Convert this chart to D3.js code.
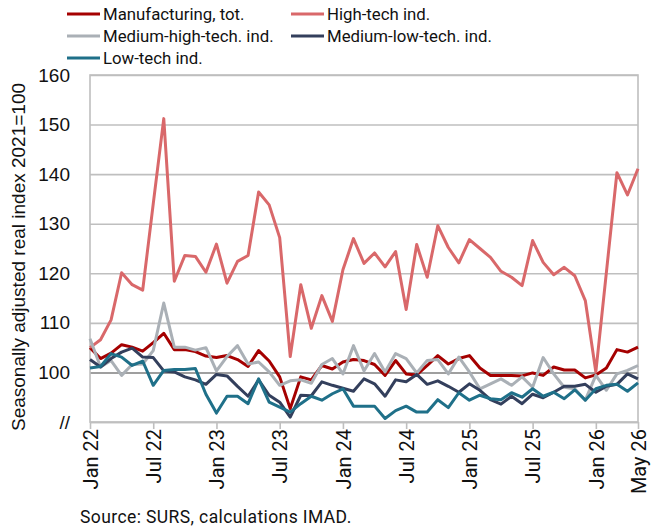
<!DOCTYPE html>
<html>
<head>
<meta charset="utf-8">
<script src="https://cdn.jsdelivr.net/npm/d3@7"></script>
<style>
  body { margin: 0; background: #fff; }
  svg { display: block; }
</style>
</head>
<body>
<div id="chart"></div>
<script>
// Monthly categories, Jan 2022 .. May 2026
const months = d3.timeMonth.range(new Date(2022, 0, 1), new Date(2026, 5, 1));

const manufacturing = [105.0, 102.8, 103.9, 105.6, 105.1, 104.3, 106.0, 107.9, 104.6, 104.6, 104.2, 103.3,
  103.0, 103.4, 102.6, 101.2, 104.4, 102.3, 99.1, 92.7, 99.1, 98.5, 101.4, 100.7,
  102.1, 102.6, 102.4, 101.6, 99.4, 102.4, 99.7, 99.5, 101.4, 103.4, 101.7, 102.8,
  103.4, 100.9, 99.4, 99.4, 99.4, 99.3, 99.9, 99.4, 101.1, 100.5, 100.5, 98.9,
  99.5, 100.9, 104.6, 104.1, 105.1];

const highTech = [105.0, 106.6, 110.6, 120.1, 117.7, 116.6, 134.0, 151.2, 118.4, 123.6, 123.4, 120.2,
  125.9, 118.0, 122.4, 123.6, 136.4, 133.8, 127.2, 103.2, 117.7, 108.9, 115.5, 110.3,
  120.7, 127.0, 122.0, 124.1, 121.3, 124.4, 112.7, 125.8, 119.2, 129.6, 125.2, 122.1,
  126.8, 125.0, 123.2, 120.4, 119.2, 117.5, 126.6, 122.2, 119.7, 121.2, 119.5, 114.5,
  100.1, 120.2, 140.3, 135.8, 141.1];

const mediumHighTech = [106.8, 101.1, 102.4, 99.4, 101.6, 101.7, 104.4, 114.0, 105.1, 105.1, 104.5, 105.0,
  100.3, 103.2, 105.4, 101.7, 102.1, 100.1, 97.4, 98.3, 98.5, 97.8, 101.6, 102.8,
  99.7, 105.4, 100.3, 103.8, 100.1, 103.8, 102.8, 99.9, 102.4, 102.6, 99.7, 103.1,
  100.1, 96.7, 97.7, 98.7, 97.4, 99.1, 97.0, 103.0, 99.7, 97.0, 96.7, 94.4,
  99.4, 96.4, 99.7, 100.4, 101.4];

const mediumLowTech = [102.6, 101.1, 102.8, 104.1, 104.9, 103.1, 103.0, 100.3, 100.1, 99.1, 98.5, 97.6,
  99.6, 99.3, 97.2, 95.2, 98.5, 95.4, 94.0, 91.0, 95.4, 95.3, 98.1, 97.4,
  96.8, 96.2, 98.7, 97.7, 95.2, 98.5, 98.1, 99.6, 97.6, 98.3, 97.2, 96.0,
  97.7, 96.4, 94.5, 93.6, 95.2, 93.7, 95.6, 94.9, 96.0, 97.2, 97.2, 97.6,
  96.0, 97.2, 97.6, 99.7, 98.7];

const lowTech = [100.9, 101.2, 103.8, 103.1, 101.4, 102.3, 97.4, 100.4, 100.6, 100.6, 100.8, 95.6,
  91.8, 95.2, 95.2, 93.7, 98.7, 94.0, 93.0, 92.0, 93.7, 95.2, 94.4, 95.7,
  96.7, 93.2, 93.2, 93.2, 90.7, 92.3, 93.2, 92.0, 92.0, 94.5, 92.9, 95.9,
  94.4, 95.4, 94.7, 94.5, 95.9, 95.0, 96.7, 95.2, 96.0, 94.7, 96.5, 94.4,
  96.7, 97.4, 97.6, 96.2, 97.9];

const seriesNames = ['Manufacturing, tot.', 'High-tech ind.', 'Medium-high-tech. ind.', 'Medium-low-tech. ind.', 'Low-tech ind.'];
const seriesValues = [manufacturing, highTech, mediumHighTech, mediumLowTech, lowTech];
const seriesColors = ['#a50000', '#d9686a', '#aab0b6', '#333f5c', '#1f7089'];

const yTicks = [90, 100, 110, 120, 130, 140, 150, 160];
const xTickLabels = ['Jan 22', 'Jul 22', 'Jan 23', 'Jul 23', 'Jan 24', 'Jul 24', 'Jan 25', 'Jul 25', 'Jan 26', 'May 26'];

const config = {
  width: 651,
  height: 532,
  margin: { top: 75, right: 13, bottom: 110, left: 90 }
};

const innerW = config.width - config.margin.left - config.margin.right;
const innerH = config.height - config.margin.top - config.margin.bottom;

const fmt = d3.timeFormat('%b %y');
const keys = months.map(fmt);

const svg = d3.select('#chart').append('svg')
  .attr('width', config.width)
  .attr('height', config.height);

const chart = svg.append('g')
  .attr('transform', `translate(${config.margin.left},${config.margin.top})`);

const xScale = d3.scalePoint()
  .domain(keys)
  .range([0, innerW]);

const yScale = d3.scaleLinear()
  .domain([90, 160])
  .range([innerH, 0]);

// gridlines + y labels
const yAxis = d3.axisLeft(yScale)
  .tickValues(yTicks)
  .tickSize(-innerW)
  .tickPadding(20)
  .tickFormat(d => d === 90 ? '//' : d);

const yAxisGroup = chart.append('g')
  .attr('class', 'y-axis')
  .call(yAxis);

yAxisGroup.select('.domain').remove();
yAxisGroup.selectAll('line')
  .attr('stroke', d => d === 100 ? '#7f7f7f' : '#bfbfbf')
  .attr('stroke-width', 1.6);
yAxisGroup.selectAll('text')
  .attr('font-family', '"Liberation Sans", Arial, sans-serif')
  .attr('font-size', 19)
  .attr('fill', '#111');

// plot border
chart.append('rect')
  .attr('width', innerW)
  .attr('height', innerH)
  .attr('fill', 'none')
  .attr('stroke', '#bfbfbf')
  .attr('stroke-width', 1.6);

// x axis
const xAxis = d3.axisBottom(xScale)
  .tickValues(xTickLabels)
  .tickSize(7)
  .tickSizeOuter(0);

const xAxisGroup = chart.append('g')
  .attr('class', 'x-axis')
  .attr('transform', `translate(0,${innerH})`)
  .call(xAxis);

xAxisGroup.select('.domain')
  .attr('stroke', '#bfbfbf')
  .attr('stroke-width', 1.6);
xAxisGroup.selectAll('line')
  .attr('stroke', '#bfbfbf')
  .attr('stroke-width', 1.6);
xAxisGroup.selectAll('text')
  .attr('transform', 'rotate(-90)')
  .attr('x', -7)
  .attr('y', 0)
  .attr('dy', '0.36em')
  .attr('text-anchor', 'end')
  .attr('font-family', 'Roboto, sans-serif')
  .attr('font-size', 20)
  .attr('fill', '#111');

// y axis title
svg.append('text')
  .attr('transform', `translate(25,257) rotate(-90)`)
  .attr('text-anchor', 'middle')
  .attr('font-family', '"Liberation Sans", Arial, sans-serif')
  .attr('font-size', 19)
  .attr('fill', '#111')
  .text('Seasonally adjusted real index 2021=100');

// lines
const line = d3.line()
  .x((d, i) => xScale(keys[i]))
  .y(d => yScale(d));

chart.selectAll('.series')
  .data(seriesValues)
  .join('path')
  .attr('class', 'series')
  .attr('fill', 'none')
  .attr('stroke', (d, i) => seriesColors[i])
  .attr('stroke-width', 3)
  .attr('stroke-linejoin', 'round')
  .attr('d', line);

// legend
const legendPos = [[67, 14], [291, 14], [67, 36], [291, 36], [67, 58]];
const legend = svg.append('g').attr('class', 'legend');
const items = legend.selectAll('g')
  .data(seriesNames)
  .join('g')
  .attr('transform', (d, i) => `translate(${legendPos[i][0]},${legendPos[i][1]})`);

items.append('line')
  .attr('x1', 0).attr('x2', 33)
  .attr('stroke', (d, i) => seriesColors[i])
  .attr('stroke-width', 3);

items.append('text')
  .attr('x', 36)
  .attr('dy', '0.36em')
  .attr('font-family', 'Roboto, sans-serif')
  .attr('font-size', 16.8)
  .attr('fill', '#111')
  .text(d => d);

// source
svg.append('text')
  .attr('x', 80)
  .attr('y', 523)
  .attr('font-family', 'Roboto, sans-serif')
  .attr('font-size', 17.5)
  .attr('letter-spacing', 0.4)
  .attr('fill', '#111')
  .text('Source: SURS, calculations IMAD.');
</script>
</body>
</html>
